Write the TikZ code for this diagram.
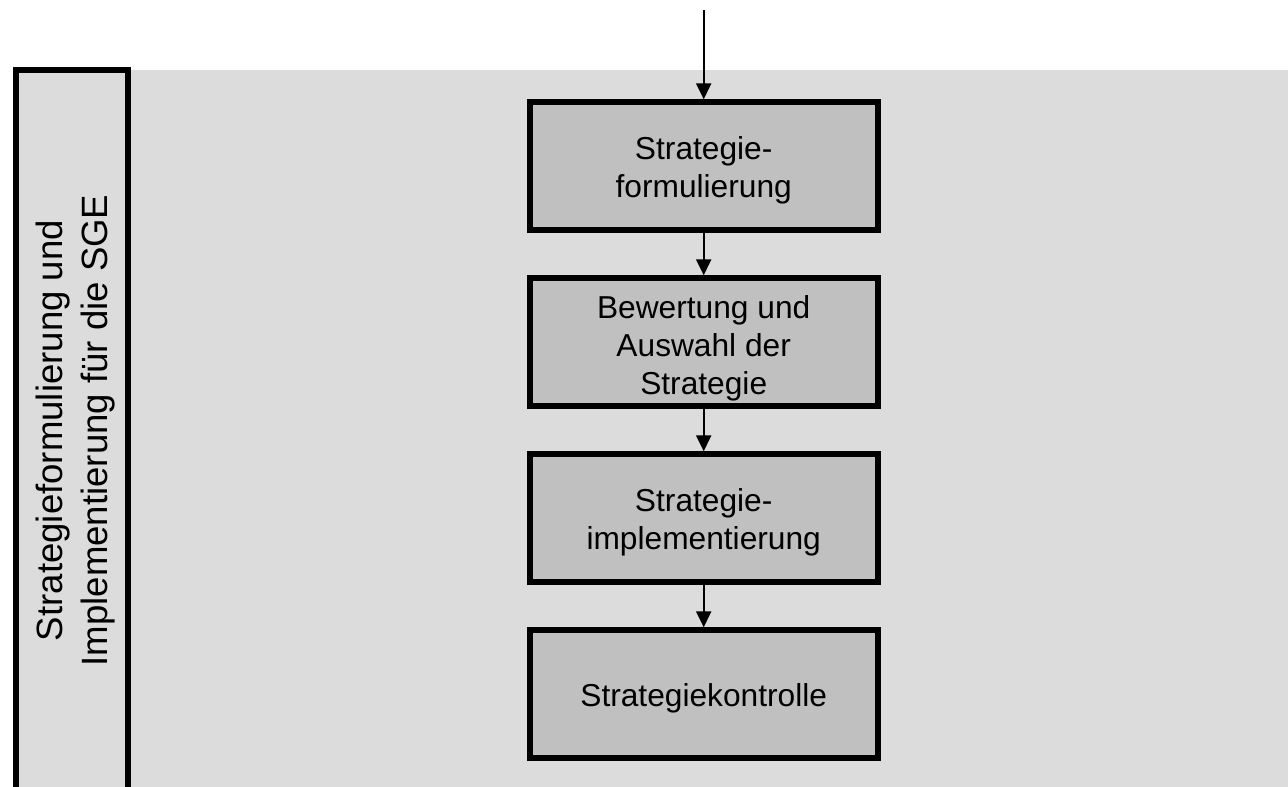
\documentclass[tikz,border=0pt]{standalone}
\usepackage{fontspec}
\setmainfont{Liberation Sans}
\usetikzlibrary{arrows.meta}
\definecolor{panelgray}{RGB}{220,220,220}
\definecolor{boxgray}{RGB}{192,192,192}
\begin{document}
\begin{tikzpicture}[x=1pt,y=-1pt,
  stepbox/.style={draw=black, line width=6pt, fill=boxgray, line join=miter,
    minimum width=348pt, minimum height=128pt, inner sep=0pt, outer sep=3pt},
  boxtext/.style={align=center, inner sep=0pt,
    font=\fontsize{31.7}{38}\selectfont},
  sidetext/.style={align=center, inner sep=0pt, rotate=90,
    font=\fontsize{36.6}{44.5}\selectfont},
  flow/.style={line width=2.2pt, -{Triangle[width=15pt,length=16pt]}}]
  \useasboundingbox (0,0) rectangle (1288,787);
  \clip (0,0) rectangle (1288,787);

  % grey panel behind the process chain
  \fill[panelgray] (130,70) rectangle (1288,800);

  % side strip with the phase caption
  \draw[line width=6pt, fill=panelgray, line join=miter]
    (15.7,800) -- (15.7,70) -- (127.7,70) -- (127.7,800);
  \node[sidetext] (caption) at (75.3,430.5)
    {Strategieformulierung und\\Implementierung für die SGE};

  % process steps
  \node[stepbox] (b1) at (703.7,166.3) {};
  \node[stepbox] (b2) at (703.7,342.3) {};
  \node[stepbox] (b3) at (703.7,518.3) {};
  \node[stepbox] (b4) at (703.7,694.3) {};

  \node[boxtext] (t1) at ([yshift=-3.6pt]b1.center) {Strategie-\\formulierung};
  \node[boxtext] (t2) at ([yshift=-5.6pt]b2.center) {Bewertung und\\Auswahl der\\Strategie};
  \node[boxtext] (t3) at ([yshift=-3.6pt]b3.center) {Strategie-\\implementierung};
  \node[boxtext] (t4) at ([yshift=-3.6pt]b4.center) {Strategiekontrolle};

  % flow arrows
  \coordinate (src) at (703.7,10);
  \draw[flow] (src) -- (b1);
  \draw[flow] (b1) -- (b2);
  \draw[flow] (b2) -- (b3);
  \draw[flow] (b3) -- (b4);
\end{tikzpicture}
\end{document}
